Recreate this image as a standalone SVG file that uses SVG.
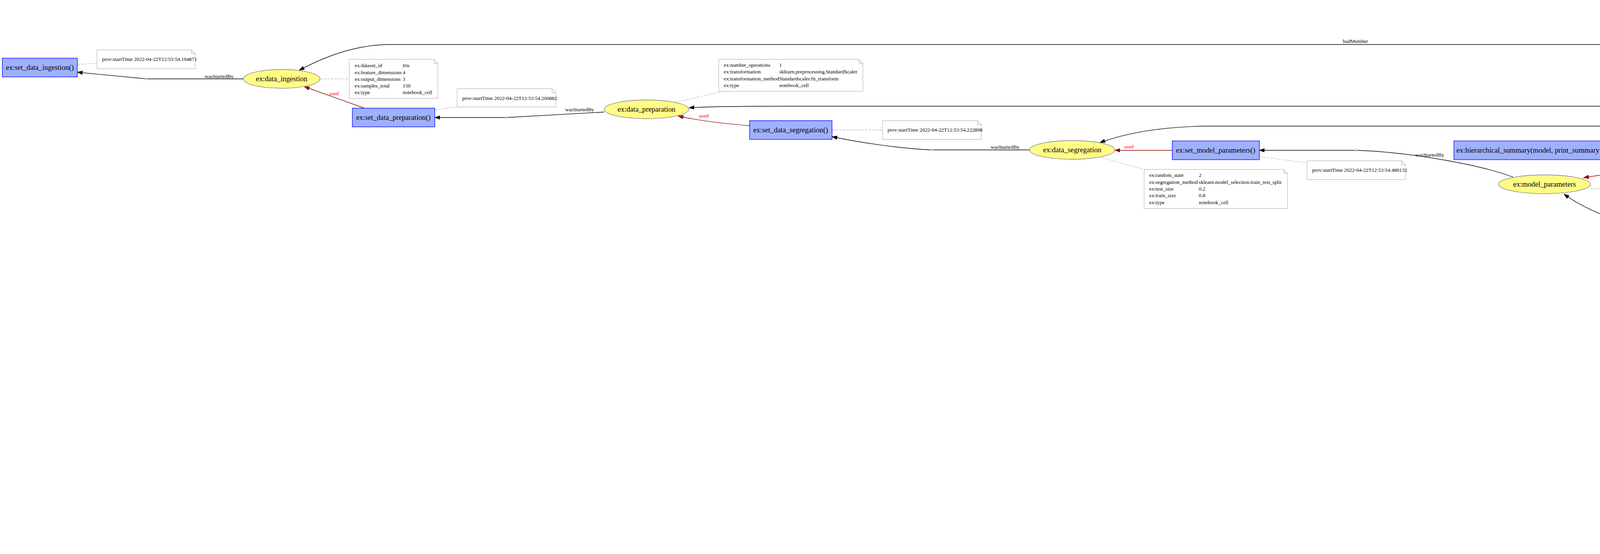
<svg xmlns="http://www.w3.org/2000/svg" width="7988" height="1419" viewBox="0 0 7988 1419">
<style>
text{font-family:"Liberation Serif","Times New Roman",serif;fill:#000}
.act{fill:#9FB1FC;stroke:#0000FF;stroke-width:1.33}
.ent{fill:#FFFC87;stroke:#808080;stroke-width:1.33}
.agt{fill:#FED37F;stroke:#000;stroke-width:1.33}
.note{fill:#fff;stroke:#C0C0C0;stroke-width:1.33}
.nl{font-size:18.67px;text-anchor:middle}
.nt{font-size:13.33px;white-space:pre}
.el{font-size:13.33px;text-anchor:middle}
.e{fill:none;stroke:#000;stroke-width:1.33}
.u{fill:none;stroke:#8B0000;stroke-width:1.33}
.g{fill:none;stroke:#006400;stroke-width:1.33}
.o{fill:none;stroke:#FED37F;stroke-width:1.33}
.p{fill:none;stroke:#C0C0C0;stroke-width:1.33}
.a{fill:none;stroke:#C0C0C0;stroke-width:1.33;stroke-dasharray:6.67,2.67}
.dot{fill:#C0C0C0;stroke:#C0C0C0}
</style>
<defs>
<marker id="mk" markerUnits="userSpaceOnUse" markerWidth="14" markerHeight="10" refX="13.3" refY="5" orient="auto" viewBox="0 0 14 10"><path d="M0,0.3 L13.3,5 L0,9.7 Z" fill="#000" stroke="#000"/></marker>
<marker id="mr" markerUnits="userSpaceOnUse" markerWidth="14" markerHeight="10" refX="13.3" refY="5" orient="auto" viewBox="0 0 14 10"><path d="M0,0.3 L13.3,5 L0,9.7 Z" fill="#8B0000" stroke="#8B0000"/></marker>
<marker id="mg" markerUnits="userSpaceOnUse" markerWidth="14" markerHeight="10" refX="13.3" refY="5" orient="auto" viewBox="0 0 14 10"><path d="M0,0.3 L13.3,5 L0,9.7 Z" fill="#006400" stroke="#006400"/></marker>
<marker id="mo" markerUnits="userSpaceOnUse" markerWidth="14" markerHeight="10" refX="13.3" refY="5" orient="auto" viewBox="0 0 14 10"><path d="M0,0.3 L13.3,5 L0,9.7 Z" fill="#FED37F" stroke="#FED37F"/></marker>
<marker id="mp" markerUnits="userSpaceOnUse" markerWidth="14" markerHeight="10" refX="13.3" refY="5" orient="auto" viewBox="0 0 14 10"><path d="M0,0.3 L13.3,5 L0,9.7 Z" fill="#C0C0C0" stroke="#C0C0C0"/></marker>
</defs>
<rect width="7988" height="1419" fill="#fff"/>

<g id="edges">
<!-- hadMember from notebook -->
<path class="e" marker-end="url(#mk)" d="M6949,574 C6880,400 6700,114 6531,114 L1000,114 C920,114 840,140 766,180"/>
<text class="el" x="3470" y="110">hadMember</text>
<path class="e" marker-end="url(#mk)" d="M6944,576 C6900,420 6700,272 6531,272 L2011,272 C1900,272 1800,274 1764,276"/>
<text class="el" x="4251" y="268">hadMember</text>
<path class="e" marker-end="url(#mk)" d="M6940,576 C6890,440 6720,323 6531,323 L3103,323 C3000,323 2900,335 2816,365"/>
<text class="el" x="4866" y="320">hadMember</text>
<path class="e" marker-end="url(#mk)" d="M6917,578 C6820,560 6650,537 6519,537 L5732,537 C5600,537 5480,515 5362,472"/>
<text class="el" x="6109" y="533">hadMember</text>
<path class="e" marker-end="url(#mk)" d="M6889,599 C6500,604 5200,614 4600,614 C4400,614 4300,612 4250,600 C4150,570 4060,540 4004,497"/>
<text class="el" x="5552" y="607">hadMember</text>
<path class="e" marker-end="url(#mk)" d="M6921,578 L6564,408"/>
<text class="el" x="6688" y="444">hadMember</text>
<path class="e" marker-end="url(#mk)" d="M6936,622 C6860,720 6760,780 6700,805 C6630,832 6580,830 6559,853"/>
<text class="el" x="6687" y="780">hadMember</text>
<path class="e" marker-end="url(#mk)" d="M6932,622 L6538,1053"/>
<text class="el" x="6687" y="837">hadMember</text>
<path class="e" marker-end="url(#mk)" d="M6938,622 C6790,780 6745,800 6742,900 C6740,1000 6580,1100 6542,1207"/>
<text class="el" x="6687" y="951">hadMember</text>

<!-- used -->
<path class="u" marker-end="url(#mr)" d="M933,277 L779,222"/>
<text class="el" x="855" y="244" fill="#FF0000" style="fill:#FF0000">used</text>
<path class="u" marker-end="url(#mr)" d="M1919,322 Q1800,312 1736,297"/>
<text class="el" x="1802" y="301" style="fill:#FF0000">used</text>
<path class="u" marker-end="url(#mr)" d="M3001,385 L2854,385"/>
<text class="el" x="2890" y="380" style="fill:#FF0000">used</text>
<path class="u" marker-end="url(#mr)" d="M4441,397 L4054,455"/>
<text class="el" x="4255" y="416" style="fill:#FF0000">used</text>
<path class="u" marker-end="url(#mr)" d="M5678,398 L5374,448"/>
<text class="el" x="5552" y="408" style="fill:#FF0000">used</text>

<!-- wasStartedBy -->
<path class="e" marker-end="url(#mk)" d="M623,202 L375,202 L198,185"/>
<text class="el" x="561" y="200">wasStartedBy</text>
<path class="e" marker-end="url(#mk)" d="M1547,287 L1296,301 L1113,301"/>
<text class="el" x="1484" y="285">wasStartedBy</text>
<path class="e" marker-end="url(#mk)" d="M2636,384 L2386,384 C2300,380 2200,365 2130,350"/>
<text class="el" x="2573" y="381">wasStartedBy</text>
<path class="e" marker-end="url(#mk)" d="M3874,454 C3800,425 3620,390 3472,385 L3224,385"/>
<text class="el" x="3660" y="401">wasStartedBy</text>
<path class="e" marker-end="url(#mk)" d="M5248,456 L4876,450 C4760,440 4680,415 4583,397"/>
<text class="el" x="5068" y="448">wasStartedBy</text>
<path class="e" marker-end="url(#mk)" d="M6437,385 L6110,385 L5839,385"/>
<text class="el" x="6329" y="381">wasStartedBy</text>
<path class="e" marker-end="url(#mk)" d="M6458,894 C6400,950 6250,969 6111,969 C6020,969 5930,955 5855,935"/>
<text class="el" x="6328" y="916">wasStartedBy</text>
<path class="e" marker-end="url(#mk)" d="M6444,1084 L6110,1120 L5835,1120"/>
<text class="el" x="6328" y="1087">wasStartedBy</text>
<path class="e" marker-end="url(#mk)" d="M7419,1314 C7300,1260 7150,1232 6962,1232 L6617,1232"/>
<text class="el" x="7233" y="1247">wasStartedBy</text>

<!-- wasInformedBy -->
<path class="e" marker-end="url(#mk)" d="M4441,385 L4188,385"/>
<text class="el" x="4255" y="381">wasInformedBy</text>
<path class="e" marker-end="url(#mk)" d="M5704,894 Q5600,830 5419,792"/>
<text class="el" x="5551" y="816">wasInformedBy</text>
<path class="e" marker-end="url(#mk)" d="M5661,903 L5378,856"/>
<text class="el" x="5551" y="876">wasInformedBy</text>
<path class="e" marker-end="url(#mk)" d="M5661,919 L5400,919"/>
<text class="el" x="5551" y="916">wasInformedBy</text>
<path class="e" marker-end="url(#mk)" d="M5661,934 L5396,977"/>
<text class="el" x="5551" y="941">wasInformedBy</text>
<path class="e" marker-end="url(#mk)" d="M5245,847 L4979,847"/>
<text class="el" x="5068" y="842">wasInformedBy</text>
<path class="e" marker-end="url(#mk)" d="M5681,1110 L5435,1079"/>
<text class="el" x="5552" y="1086">wasInformedBy</text>
<path class="e" marker-end="url(#mk)" d="M5681,1122 L5485,1129"/>
<text class="el" x="5552" y="1121">wasInformedBy</text>
<path class="e" marker-end="url(#mk)" d="M5681,1135 L5440,1182"/>
<text class="el" x="5552" y="1148">wasInformedBy</text>
<path class="e" marker-end="url(#mk)" d="M7387,1348 L7029,1382"/>
<text class="el" x="7233" y="1356">wasInformedBy</text>

<!-- generation / association / attribution / plan -->
<path class="g" marker-end="url(#mg)" d="M6895,610 L6604,658"/>
<text class="el" x="6689" y="635" style="fill:#006400">wasGeneratedBy</text>
<path class="o" marker-end="url(#mo)" d="M6421,683 L6111,710 L5864,738"/>
<text class="el" x="6328" y="681">wasAssociatedWith</text>
<path class="p" marker-end="url(#mp)" d="M6111,710 L5864,682"/>
<text class="el" x="5933" y="687" style="fill:#696969">plan</text>
<path class="o" marker-end="url(#mo)" d="M6914,618 C6780,700 6500,756 6100,756 L5898,756"/>
<text class="el" x="6328" y="737">wasAttributedTo</text>

<!-- joint points -->
<circle class="dot" cx="375" cy="202" r="2.5"/>
<circle class="dot" cx="1296" cy="301" r="2.5"/>
<circle class="dot" cx="2386" cy="384" r="2.5"/>
<circle class="dot" cx="3472" cy="385" r="2.5"/>
<circle class="dot" cx="4876" cy="450" r="2.5"/>
<circle class="dot" cx="6110" cy="385" r="2.5"/>
<circle class="dot" cx="6111" cy="710" r="2.5"/>
<circle class="dot" cx="6111" cy="969" r="2.5"/>
<circle class="dot" cx="6110" cy="1120" r="2.5"/>
<circle class="dot" cx="6962" cy="1232" r="2.5"/>

<!-- annotation links -->
<path class="a" d="M198,165 L248,162"/>
<path class="a" d="M819,202 L894,202"/>
<path class="a" d="M1113,282 L1170,273"/>
<path class="a" d="M1729,262 L1847,235"/>
<path class="a" d="M2130,333 L2259,333"/>
<path class="a" d="M2820,404 L2929,434"/>
<path class="a" d="M3224,401 L3346,417"/>
<path class="a" d="M4072,482 L4322,502"/>
<path class="a" d="M4581,387 L4750,392"/>
<path class="a" d="M5374,460 L5642,464"/>
<path class="a" d="M5839,397 L5983,417"/>
<path class="a" d="M6548,362 L6848,158"/>
<path class="a" d="M7588,393 L7783,393"/>
<path class="a" d="M7621,465 L7783,465"/>
<path class="a" d="M7036,599 L7300,599"/>
<path class="a" d="M5875,659 L6042,657"/>
<path class="a" d="M5852,772 L5969,797"/>
<path class="a" d="M5855,918 L5983,918"/>
<path class="a" d="M6610,874 L6757,874"/>
<path class="a" d="M5835,1108 L5983,1088"/>
<path class="a" d="M6587,1077 L6783,1077"/>
<path class="a" d="M6607,1247 L6838,1281"/>
<path class="a" d="M7593,1338 L7730,1338"/>
</g>

<!-- activities -->
<g id="set_data_ingestion"><rect class="act" x="6" y="149" width="192" height="48"/><text class="nl" x="102" y="179">ex:set_data_ingestion()</text></g>
<g id="set_data_preparation"><rect class="act" x="902" y="277" width="211" height="48"/><text class="nl" x="1007" y="307">ex:set_data_preparation()</text></g>
<g id="set_data_segregation"><rect class="act" x="1919" y="309" width="211" height="48"/><text class="nl" x="2024" y="339">ex:set_data_segregation()</text></g>
<g id="set_model_parameters"><rect class="act" x="3001" y="361" width="223" height="48"/><text class="nl" x="3112" y="391">ex:set_model_parameters()</text></g>
<g id="hierarchical_summary"><rect class="act" x="3722" y="361" width="466" height="48"/><text class="nl" x="3955" y="391">ex:hierarchical_summary(model, print_summary = False)[1]</text></g>
<g id="set_training"><rect class="act" x="4441" y="361" width="140" height="48"/><text class="nl" x="4511" y="391">ex:set_training()</text></g>
<g id="set_evaluation"><rect class="act" x="5678" y="361" width="161" height="48"/><text class="nl" x="5758" y="391">ex:set_evaluation()</text></g>
<g id="GenerateNotebook"><rect class="act" x="6421" y="651" width="183" height="48"/><text class="nl" x="6512" y="681">ex:GenerateNotebook</text></g>
<g id="cpuinfo_get_cpu_info"><rect class="act" x="5204" y="751" width="215" height="48"/><text class="nl" x="5311" y="781">ex:cpuinfo.get_cpu_info()</text></g>
<g id="svmem_total"><rect class="act" x="5245" y="823" width="133" height="48"/><text class="nl" x="5311" y="853">ex:svmem.total</text></g>
<g id="get_size"><rect class="act" x="4773" y="823" width="206" height="48"/><text class="nl" x="4876" y="853">ex:get_size(svmem.total)</text></g>
<g id="GPUtil_getGPUs"><rect class="act" x="5222" y="894" width="178" height="48"/><text class="nl" x="5311" y="924">ex:GPUtil.getGPUs()</text></g>
<g id="platform_uname"><rect class="act" x="5226" y="967" width="170" height="48"/><text class="nl" x="5311" y="997">ex:platform.uname()</text></g>
<g id="set_hardware_info"><rect class="act" x="5661" y="894" width="194" height="48"/><text class="nl" x="5758" y="924">ex:set_hardware_info()</text></g>
<g id="pip_py_cpuinfo"><rect class="act" x="5188" y="1039" width="247" height="48"/><text class="nl" x="5311" y="1069">ex:!pip list | grep -i py-cpuinfo</text></g>
<g id="pip_pytorch"><rect class="act" x="5136" y="1111" width="349" height="48"/><text class="nl" x="5311" y="1141">ex:!pip list | grep -i pytorch-model-summary</text></g>
<g id="package_version"><rect class="act" x="5176" y="1182" width="270" height="48"/><text class="nl" x="5311" y="1212">ex:{package_name}.__version__</text></g>
<g id="set_packages"><rect class="act" x="5681" y="1096" width="154" height="48"/><text class="nl" x="5758" y="1126">ex:set_packages()</text></g>
<g id="set_experiment_info"><rect class="act" x="7387" y="1314" width="206" height="48"/><text class="nl" x="7490" y="1344">ex:set_experiment_info()</text></g>
<g id="date_today"><rect class="act" x="6896" y="1365" width="133" height="48"/><text class="nl" x="6962" y="1395">ex:date.today()</text></g>

<!-- entities -->
<g id="data_ingestion"><ellipse class="ent" cx="721" cy="202" rx="98" ry="24"/><text class="nl" x="721" y="208">ex:data_ingestion</text></g>
<g id="data_preparation"><ellipse class="ent" cx="1655" cy="280" rx="108" ry="24"/><text class="nl" x="1655" y="286">ex:data_preparation</text></g>
<g id="data_segregation"><ellipse class="ent" cx="2745" cy="384" rx="109" ry="24"/><text class="nl" x="2745" y="390">ex:data_segregation</text></g>
<g id="model_parameters"><ellipse class="ent" cx="3954" cy="472" rx="118" ry="24"/><text class="nl" x="3954" y="478">ex:model_parameters</text></g>
<g id="training"><ellipse class="ent" cx="5311" cy="457" rx="63" ry="24"/><text class="nl" x="5311" y="463">ex:training</text></g>
<g id="evaluation"><ellipse class="ent" cx="6513" cy="385" rx="77" ry="24"/><text class="nl" x="6513" y="391">ex:evaluation</text></g>
<g id="notebook"><ellipse class="ent" cx="6962" cy="599" rx="74" ry="24"/><text class="nl" x="6962" y="605">ex:notebook</text></g>
<g id="Data_Ingestion"><ellipse class="ent" cx="7490" cy="393" rx="98" ry="24"/><text class="nl" x="7490" y="399">ex:Data Ingestion</text></g>
<g id="Provenance_Data_Cell"><ellipse class="ent" cx="7490" cy="465" rx="131" ry="24"/><text class="nl" x="7490" y="471">ex:Provenance Data Cell</text></g>
<g id="MLProvCodeGen"><ellipse class="ent" cx="5758" cy="671" rx="117" ry="24"/><text class="nl" x="5758" y="677">ex:MLProvCodeGen</text></g>
<g id="hardware_info"><ellipse class="ent" cx="6512" cy="874" rx="98" ry="24"/><text class="nl" x="6512" y="880">ex:hardware_info</text></g>
<g id="packages"><ellipse class="ent" cx="6513" cy="1077" rx="73" ry="24"/><text class="nl" x="6513" y="1083">ex:packages</text></g>
<g id="experiment_info"><ellipse class="ent" cx="6513" cy="1232" rx="105" ry="24"/><text class="nl" x="6513" y="1238">ex:experiment_info</text></g>

<!-- agent -->
<g id="Tarek_Al_Mustafa"><polygon class="agt" points="5619,770 5897,770 5897,743 5758,727 5619,743"/><line x1="5619" y1="770" x2="5897" y2="770" stroke="#000" stroke-width="2.5"/><text class="nl" x="5758" y="757">ex:Tarek Al Mustafa</text></g>

<!-- notes -->
<g id="note_set_data_ingestion"><path class="note" d="M248,128 H490 L500,138 V176 H248 Z M490,128 V138 H500"/><text class="nt" x="261" y="156">prov:startTime 2022-04-22T12:53:54.194871</text></g>
<g id="note_data_ingestion"><path class="note" d="M894,152 H1111 L1121,162 V252 H894 Z M1111,152 V162 H1121"/>
<text class="nt" x="908" y="172">ex:dataset_id</text><text class="nt" x="1031" y="172">Iris</text>
<text class="nt" x="908" y="190">ex:feature_dimensions</text><text class="nt" x="1031" y="190">4</text>
<text class="nt" x="908" y="207">ex:output_dimensions</text><text class="nt" x="1031" y="207">3</text>
<text class="nt" x="908" y="224">ex:samples_total</text><text class="nt" x="1031" y="224">150</text>
<text class="nt" x="908" y="241">ex:type</text><text class="nt" x="1031" y="241">notebook_cell</text></g>
<g id="note_set_data_preparation"><path class="note" d="M1170,227 H1413 L1423,237 V274 H1170 Z M1413,227 V237 H1423"/><text class="nt" x="1183" y="256">prov:startTime 2022-04-22T12:53:54.206882</text></g>
<g id="note_data_preparation"><path class="note" d="M1840,152 H2199 L2209,162 V234 H1840 Z M2199,152 V162 H2209"/>
<text class="nt" x="1853" y="171">ex:number_operations</text><text class="nt" x="1995" y="171">1</text>
<text class="nt" x="1853" y="188">ex:transformation</text><text class="nt" x="1995" y="188">sklearn.preprocessing.StandardScaler</text>
<text class="nt" x="1853" y="206">ex:transformation_method</text><text class="nt" x="1995" y="206">Standardscaler.fit_transform</text>
<text class="nt" x="1853" y="223">ex:type</text><text class="nt" x="1995" y="223">notebook_cell</text></g>
<g id="note_set_data_segregation"><path class="note" d="M2259,309 H2502 L2512,319 V357 H2259 Z M2502,309 V319 H2512"/><text class="nt" x="2272" y="337">prov:startTime 2022-04-22T12:53:54.222898</text></g>
<g id="note_data_segregation"><path class="note" d="M2929,434 H3286 L3296,444 V534 H2929 Z M3286,434 V444 H3296"/>
<text class="nt" x="2942" y="453">ex:random_state</text><text class="nt" x="3069" y="453">2</text>
<text class="nt" x="2942" y="471">ex:segregation_method</text><text class="nt" x="3069" y="471">sklearn.model_selection.train_test_split</text>
<text class="nt" x="2942" y="488">ex:test_size</text><text class="nt" x="3069" y="488">0.2</text>
<text class="nt" x="2942" y="505">ex:train_size</text><text class="nt" x="3069" y="505">0.8</text>
<text class="nt" x="2942" y="523">ex:type</text><text class="nt" x="3069" y="523">notebook_cell</text></g>
<g id="note_set_model_parameters"><path class="note" d="M3346,412 H3588 L3598,422 V460 H3346 Z M3588,412 V422 H3598"/><text class="nt" x="3359" y="440">prov:startTime 2022-04-22T12:53:54.480132</text></g>
<g id="note_model_parameters"><path class="note" d="M4322,434 H4690 L4700,444 V604 H4322 Z M4690,434 V444 H4700"/>
<text class="nt" x="4335" y="453">ex:activation_function</text><text class="nt" x="4521" y="453">F.softmax(self.layer3(x), dim=1)</text>
<text class="nt" x="4335" y="471">ex:gpu_enable</text><text class="nt" x="4521" y="471">1</text>
<text class="nt" x="4335" y="488">ex:loss_function</text><text class="nt" x="4521" y="488">nn.CrossEntropyLoss()</text>
<text class="nt" x="4335" y="505">ex:modelParameters</text><text class="nt" x="4521" y="505">str(model)TODO</text>
<text class="nt" x="4335" y="523">ex:neuron_number</text><text class="nt" x="4521" y="523">50</text>
<text class="nt" x="4335" y="540">ex:optimizer</text><text class="nt" x="4521" y="540">torch.optim.Adam(</text>
<text class="nt" x="4335" y="557">ex:optimizer_default_learning_rate</text><text class="nt" x="4521" y="557">1</text>
<text class="nt" x="4335" y="575">ex:optimizer_learning_rate</text><text class="nt" x="4521" y="575">None</text>
<text class="nt" x="4335" y="592">ex:type</text><text class="nt" x="4521" y="592">notebook_cell</text></g>
<g id="note_set_training"><path class="note" d="M4750,372 H4992 L5002,382 V420 H4750 Z M4992,372 V382 H5002"/><text class="nt" x="4763" y="401">prov:startTime 2022-04-22T12:53:54.587663</text></g>
<g id="note_training"><path class="note" d="M5642,434 H5864 L5874,444 V499 H5642 Z M5864,434 V444 H5874"/>
<text class="nt" x="5655" y="453">ex:epochs</text><text class="nt" x="5783" y="453">100</text>
<text class="nt" x="5655" y="471">ex:numberOfParameters</text><text class="nt" x="5783" y="471">2953</text>
<text class="nt" x="5655" y="488">ex:type</text><text class="nt" x="5783" y="488">notebook_cell</text></g>
<g id="note_set_evaluation"><path class="note" d="M5983,412 H6226 L6236,422 V460 H5983 Z M6226,412 V422 H6236"/><text class="nt" x="5996" y="440">prov:startTime 2022-04-22T12:53:54.807863</text></g>
<g id="note_evaluation"><path class="note" d="M6798,5 H7116 L7126,15 V158 H6798 Z M7116,5 V15 H7126"/>
<text class="nt" x="6811" y="24">ex:AUC</text><text class="nt" x="6942" y="24">0.99611</text>
<text class="nt" x="6811" y="41">ex:Accuracy</text><text class="nt" x="6942" y="41">0.9333333373069763</text>
<text class="nt" x="6811" y="59">ex:Confusion Matrix</text><text class="nt" x="6942" y="59">[[13  1  0] [ 0  7  1] [ 0  0  8]]</text>
<text class="nt" x="6811" y="76">ex:F1 Score</text><text class="nt" x="6942" y="76">[0.96296296 0.875      0.94117647]</text>
<text class="nt" x="6811" y="93">ex:Loss</text><text class="nt" x="6942" y="93">0.6348768472671509</text>
<text class="nt" x="6811" y="111">ex:Mean Absolute Error</text><text class="nt" x="6942" y="111">0.06666666666666667</text>
<text class="nt" x="6811" y="128">ex:Mean Squared Error</text><text class="nt" x="6942" y="128">0.06666666666666667</text>
<text class="nt" x="6811" y="145">ex:type</text><text class="nt" x="6942" y="145">notebook_cell</text></g>
<g id="note_Data_Ingestion"><path class="note" d="M7783,369 H7918 L7928,379 V417 H7783 Z M7918,369 V379 H7928"/><text class="nt" x="7797" y="397">ex:type</text><text class="nt" x="7836" y="397">notebook_cell</text></g>
<g id="note_Provenance_Data_Cell"><path class="note" d="M7783,441 H7918 L7928,451 V489 H7783 Z M7918,441 V451 H7928"/><text class="nt" x="7797" y="469">ex:type</text><text class="nt" x="7836" y="469">notebook_cell</text></g>
<g id="note_notebook"><path class="note" d="M7300,514 H7670 L7680,524 V683 H7300 Z M7670,514 V524 H7680"/>
<text class="nt" x="7314" y="533">prov:type</text><text class="nt" x="7505" y="533">prov:Collection</text>
<text class="nt" x="7314" y="551">prov:type</text><text class="nt" x="7505" y="551">prov:File</text>
<text class="nt" x="7314" y="568">ex:creation_date</text><text class="nt" x="7505" y="568">2022-04-22</text>
<text class="nt" x="7314" y="585">ex:fileformat</text><text class="nt" x="7505" y="585">.ipynb</text>
<text class="nt" x="7314" y="603">ex:kernel</text><text class="nt" x="7505" y="603">python3(ipykernel)</text>
<text class="nt" x="7314" y="620">ex:last_modified</text><text class="nt" x="7505" y="620">TODO</text>
<text class="nt" x="7314" y="637">ex:name</text><text class="nt" x="7505" y="637">MulticlassClassification.ipynb</text>
<text class="nt" x="7314" y="655">ex:programming_language</text><text class="nt" x="7505" y="655">Python</text>
<text class="nt" x="7314" y="672">ex:programming_language_version</text><text class="nt" x="7505" y="672">3.9.7 final.0 (64 bit)</text></g>
<g id="note_MLProvCodeGen"><path class="note" d="M6042,636 H6167 L6177,646 V684 H6042 Z M6167,636 V646 H6177"/><text class="nt" x="6055" y="665">prov:type</text><text class="nt" x="6114" y="665">prov:Plan</text></g>
<g id="note_Tarek"><path class="note" d="M5969,787 H6240 L6250,797 V870 H5969 Z M6240,787 V797 H6250"/>
<text class="nt" x="5983" y="807">prov:role</text><text class="nt" x="6070" y="807">Author</text>
<text class="nt" x="5983" y="825">prov:type</text><text class="nt" x="6070" y="825">prov:Person</text>
<text class="nt" x="5983" y="841">foaf:givenName</text><text class="nt" x="6070" y="841">Tarek Al Mustafa</text>
<text class="nt" x="5983" y="859">foaf:mbox</text><text class="nt" x="6070" y="859">&lt;tarek.almustafa@uni-jena.de&gt;</text></g>
<g id="note_set_hardware_info"><path class="note" d="M5983,894 H6226 L6236,904 V943 H5983 Z M6226,894 V904 H6236"/><text class="nt" x="5996" y="923">prov:startTime 2022-04-22T12:53:52.415237</text></g>
<g id="note_hardware_info"><path class="note" d="M6757,824 H7157 L7167,834 V924 H6757 Z M7157,824 V834 H7167"/>
<text class="nt" x="6771" y="844">ex:CPU</text><text class="nt" x="6883" y="844">AMD Ryzen 7 3700X 8-Core Processor</text>
<text class="nt" x="6771" y="861">ex:GPUs</text><text class="nt" x="6883" y="861">[(0, 'NVIDIA GeForce GTX 1060 6GB')]</text>
<text class="nt" x="6771" y="879">ex:Operating System</text><text class="nt" x="6883" y="879">Windows 10 Version: 10.0.19044 Machine: AMD64</text>
<text class="nt" x="6771" y="896">ex:RAM</text><text class="nt" x="6883" y="896">15.95GB</text>
<text class="nt" x="6771" y="913">ex:type</text><text class="nt" x="6883" y="913">notebook_cell</text></g>
<g id="note_set_packages"><path class="note" d="M5983,1045 H6226 L6236,1055 V1093 H5983 Z M6226,1045 V1055 H6236"/><text class="nt" x="5996" y="1073">prov:startTime 2022-04-22T12:53:54.177227</text></g>
<g id="note_packages"><path class="note" d="M6783,948 H7130 L7140,958 V1205 H6783 Z M7130,948 V958 H7140"/>
<text class="nt" x="6798" y="968">ex:gputil</text><text class="nt" x="6945" y="968">1.4.0</text>
<text class="nt" x="6798" y="985">ex:ipython</text><text class="nt" x="6945" y="985">7.31.1</text>
<text class="nt" x="6798" y="1003">ex:ipywidgets</text><text class="nt" x="6945" y="1003">7.6.5</text>
<text class="nt" x="6798" y="1020">ex:matplotlib</text><text class="nt" x="6945" y="1020">3.5.1</text>
<text class="nt" x="6798" y="1037">ex:numpy</text><text class="nt" x="6945" y="1037">1.22.2</text>
<text class="nt" x="6798" y="1055">ex:pandas</text><text class="nt" x="6945" y="1055">1.3.3</text>
<text class="nt" x="6798" y="1072">ex:prov</text><text class="nt" x="6945" y="1072">2.0.0</text>
<text class="nt" x="6798" y="1089">ex:psutil</text><text class="nt" x="6945" y="1089">5.9.0</text>
<text class="nt" x="6798" y="1107">ex:py-cpuinfo</text><text class="nt" x="6945" y="1107">py-cpuinfo</text><text class="nt" x="7065" y="1107">8.0.0</text>
<text class="nt" x="6798" y="1124">ex:pytorch-model-summary</text><text class="nt" x="6945" y="1124">pytorch-model-summary</text><text class="nt" x="7102" y="1124">0.1.2</text>
<text class="nt" x="6798" y="1141">ex:sklearn</text><text class="nt" x="6945" y="1141">1.0.2</text>
<text class="nt" x="6798" y="1159">ex:torch</text><text class="nt" x="6945" y="1159">1.10.2+cpu</text>
<text class="nt" x="6798" y="1176">ex:tqdm</text><text class="nt" x="6945" y="1176">4.60.0</text>
<text class="nt" x="6798" y="1193">ex:type</text><text class="nt" x="6945" y="1193">notebook_cell</text></g>
<g id="note_experiment_info"><path class="note" d="M6838,1258 H7076 L7086,1268 V1341 H6838 Z M7076,1258 V1268 H7086"/>
<text class="nt" x="6851" y="1277">ex:creation_date</text><text class="nt" x="6941" y="1277">2022-04-22</text>
<text class="nt" x="6851" y="1295">ex:task_type</text><text class="nt" x="6941" y="1295">MulticlassClassification</text>
<text class="nt" x="6851" y="1312">ex:title</text><text class="nt" x="6941" y="1312">Multiclass Classification</text>
<text class="nt" x="6851" y="1330">ex:type</text><text class="nt" x="6941" y="1330">notebook_cell</text></g>
<g id="note_set_experiment_info"><path class="note" d="M7730,1314 H7972 L7982,1324 V1363 H7730 Z M7972,1314 V1324 H7982"/><text class="nt" x="7743" y="1342">prov:startTime 2022-04-22T12:53:51.047075</text></g>
</svg>
